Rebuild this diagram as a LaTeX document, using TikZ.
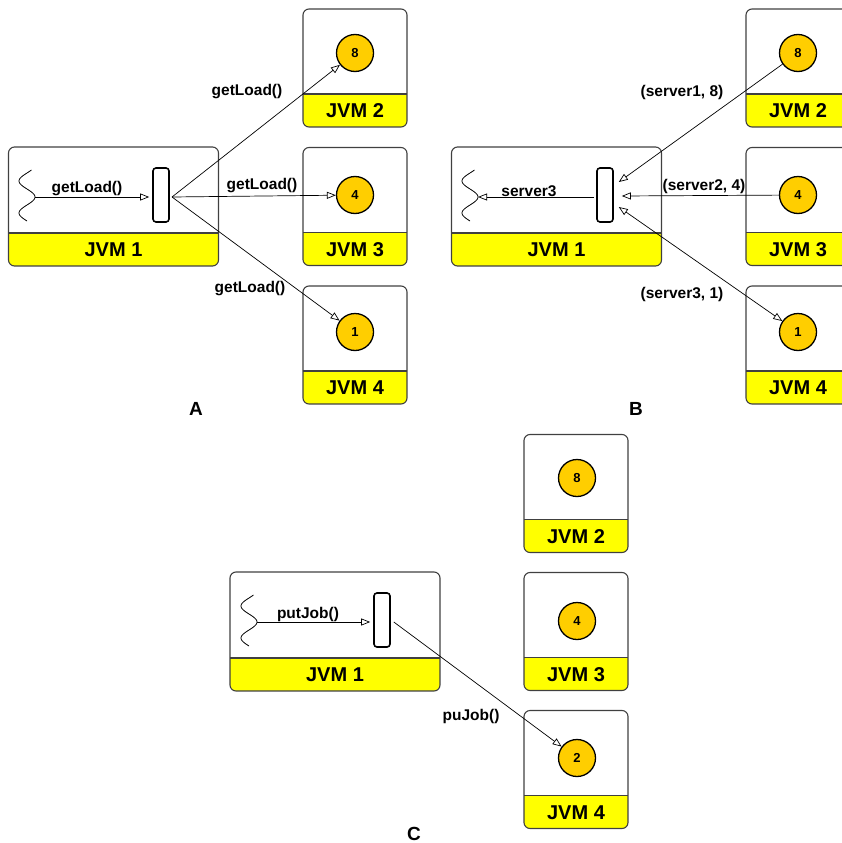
\documentclass[tikz,border=0pt]{standalone}
\usepackage{fontspec}
\setmainfont{Liberation Sans}
\usetikzlibrary{arrows.meta}

\definecolor{bandyellow}{RGB}{255,255,0}
\definecolor{loadgold}{RGB}{255,206,0}
\definecolor{boxgray}{RGB}{64,64,64}

\tikzset{
  jvm/.style={draw=boxgray, line width=1.1pt, rounded corners=6pt,
    minimum width=104pt, minimum height=118pt, inner sep=0pt,
    path picture={
      \fill[bandyellow, sharp corners] (path picture bounding box.south west)
        rectangle ([yshift=33pt]path picture bounding box.south east);
      \draw[boxgray, line width=1.1pt, sharp corners]
        ([yshift=33pt]path picture bounding box.south west)
        -- ([yshift=33pt]path picture bounding box.south east);}},
  jvmwide/.style={jvm, minimum width=210pt, minimum height=119pt},
  jvmname/.style={font=\fontsize{20}{24}\selectfont\bfseries, inner sep=0pt},
  load/.style={circle, draw, line width=1.3pt, fill=loadgold, minimum size=37pt,
    inner sep=0pt, font=\fontsize{13}{15}\selectfont\bfseries},
  queue/.style={draw, line width=1.6pt, rounded corners=3pt, minimum width=16pt,
    minimum height=54pt, inner sep=0pt},
  msg/.style={-{Triangle[open, length=9pt, width=7pt]}, line width=0.7pt},
  msgboth/.style={{Triangle[open, length=9pt, width=7pt]}-{Triangle[open, length=9pt, width=7pt]}, line width=0.7pt},
  msglabel/.style={font=\fontsize{15.5}{18}\selectfont\bfseries, inner sep=0pt},
  panel/.style={font=\fontsize{19}{22}\selectfont\bfseries, inner sep=0pt},
  wave/.style={line width=0.8pt}
}

\begin{document}
\begin{tikzpicture}[x=1pt, y=-1pt]
  \useasboundingbox (0,0) rectangle (842,843);

  % 图 A - 询问负载
  \node[jvmwide] (a1) at (113.5,206.5) {};
  \node[jvm] (a2) at (355,68) {};
  \node[jvm] (a3) at (355,206.5) {};
  \node[jvm] (a4) at (355,345) {};
  \node[jvmname] (a1-name) at ([yshift=16.5pt]a1.south) {JVM 1};
  \node[jvmname] (a2-name) at ([yshift=16.5pt]a2.south) {JVM 2};
  \node[jvmname] (a3-name) at ([yshift=16.5pt]a3.south) {JVM 3};
  \node[jvmname] (a4-name) at ([yshift=16.5pt]a4.south) {JVM 4};
  \node[load] (a8c) at (355,53) {8};
  \node[load] (a4c) at (355,195) {4};
  \node[load] (a1c) at (355,332) {1};
  \node[queue] (qa) at (161,195) {};

  % 图 B - 返回负载
  \node[jvmwide] (b1) at (556.5,206.5) {};
  \node[jvm] (b2) at (798,68) {};
  \node[jvm] (b3) at (798,206.5) {};
  \node[jvm] (b4) at (798,345) {};
  \node[jvmname] (b1-name) at ([yshift=16.5pt]b1.south) {JVM 1};
  \node[jvmname] (b2-name) at ([yshift=16.5pt]b2.south) {JVM 2};
  \node[jvmname] (b3-name) at ([yshift=16.5pt]b3.south) {JVM 3};
  \node[jvmname] (b4-name) at ([yshift=16.5pt]b4.south) {JVM 4};
  \node[load] (b8c) at (798,53) {8};
  \node[load] (b4c) at (798,195) {4};
  \node[load] (b1c) at (798,332) {1};
  \node[queue] (qb) at (605,195) {};

  % 图 C - 提交任务
  \node[jvmwide] (c1) at (335,631.5) {};
  \node[jvm] (c2) at (576,493.5) {};
  \node[jvm] (c3) at (576,631.5) {};
  \node[jvm] (c4) at (576,769.5) {};
  \node[jvmname] (c1-name) at ([yshift=16.5pt]c1.south) {JVM 1};
  \node[jvmname] (c2-name) at ([yshift=16.5pt]c2.south) {JVM 2};
  \node[jvmname] (c3-name) at ([yshift=16.5pt]c3.south) {JVM 3};
  \node[jvmname] (c4-name) at ([yshift=16.5pt]c4.south) {JVM 4};
  \node[load] (c8c) at (577,478) {8};
  \node[load] (c4c) at (577,621) {4};
  \node[load] (c2c) at (577,758) {2};
  \node[queue] (qc) at (382,620) {};

  % 线程 (波浪线)
  \foreach \wx/\wy/\wn in {27/197/wa, 470/197/wb, 249/622/wc} {
    \draw[wave] plot[domain=-27:24, samples=50, smooth]
      ({\wx+8*cos(\x*360/32)}, {\wy+\x});
    \coordinate (\wn) at (\wx+8,\wy);
  }

  % 图 A 的连接
  \coordinate (hubA) at (172,197);
  \draw[msg, shorten >=3pt] (wa) -- (wa -| qa.west);
  \draw[msg] (hubA) -- (a8c);
  \draw[msg] (hubA) -- (a4c);
  \draw[msg] (hubA) -- (a1c);

  % 图 B 的连接
  \coordinate (inB8) at ([xshift=5pt, yshift=13pt]qb.east);
  \coordinate (inB4) at ([xshift=8pt, yshift=-1pt]qb.east);
  \coordinate (inB1) at ([xshift=5pt, yshift=-12pt]qb.east);
  \draw[msg, shorten <=2pt] (qb.west |- wb) -- (wb);
  \draw[msg] (b8c) -- (inB8);
  \draw[msg] (b4c) -- (inB4);
  \draw[msgboth] (inB1) -- (b1c);

  % 图 C 的连接
  \coordinate (outC) at ([xshift=3pt, yshift=-2pt]qc.east);
  \draw[msg, shorten >=3pt] (wc) -- (wc -| qc.west);
  \draw[msg] (outC) -- (c2c);

  % 标签
  \node[msglabel] (la0) at (87,189) {getLoad()};
  \node[msglabel] (la8) at (247,92) {getLoad()};
  \node[msglabel] (la4) at (262,186) {getLoad()};
  \node[msglabel] (la1) at (250,289) {getLoad()};
  \node[msglabel] (lb0) at (529,191) {server3};
  \node[msglabel] (lb8) at (682,92) {(server1, 8)};
  \node[msglabel] (lb4) at (704,186) {(server2, 4)};
  \node[msglabel] (lb1) at (682,294) {(server3, 1)};
  \node[msglabel] (lc0) at (308,614) {putJob()};
  \node[msglabel] (lc2) at (471,716) {puJob()};

  \node[panel] (pA) at (196,409) {A};
  \node[panel] (pB) at (636,409) {B};
  \node[panel] (pC) at (414,834) {C};
\end{tikzpicture}
\end{document}
